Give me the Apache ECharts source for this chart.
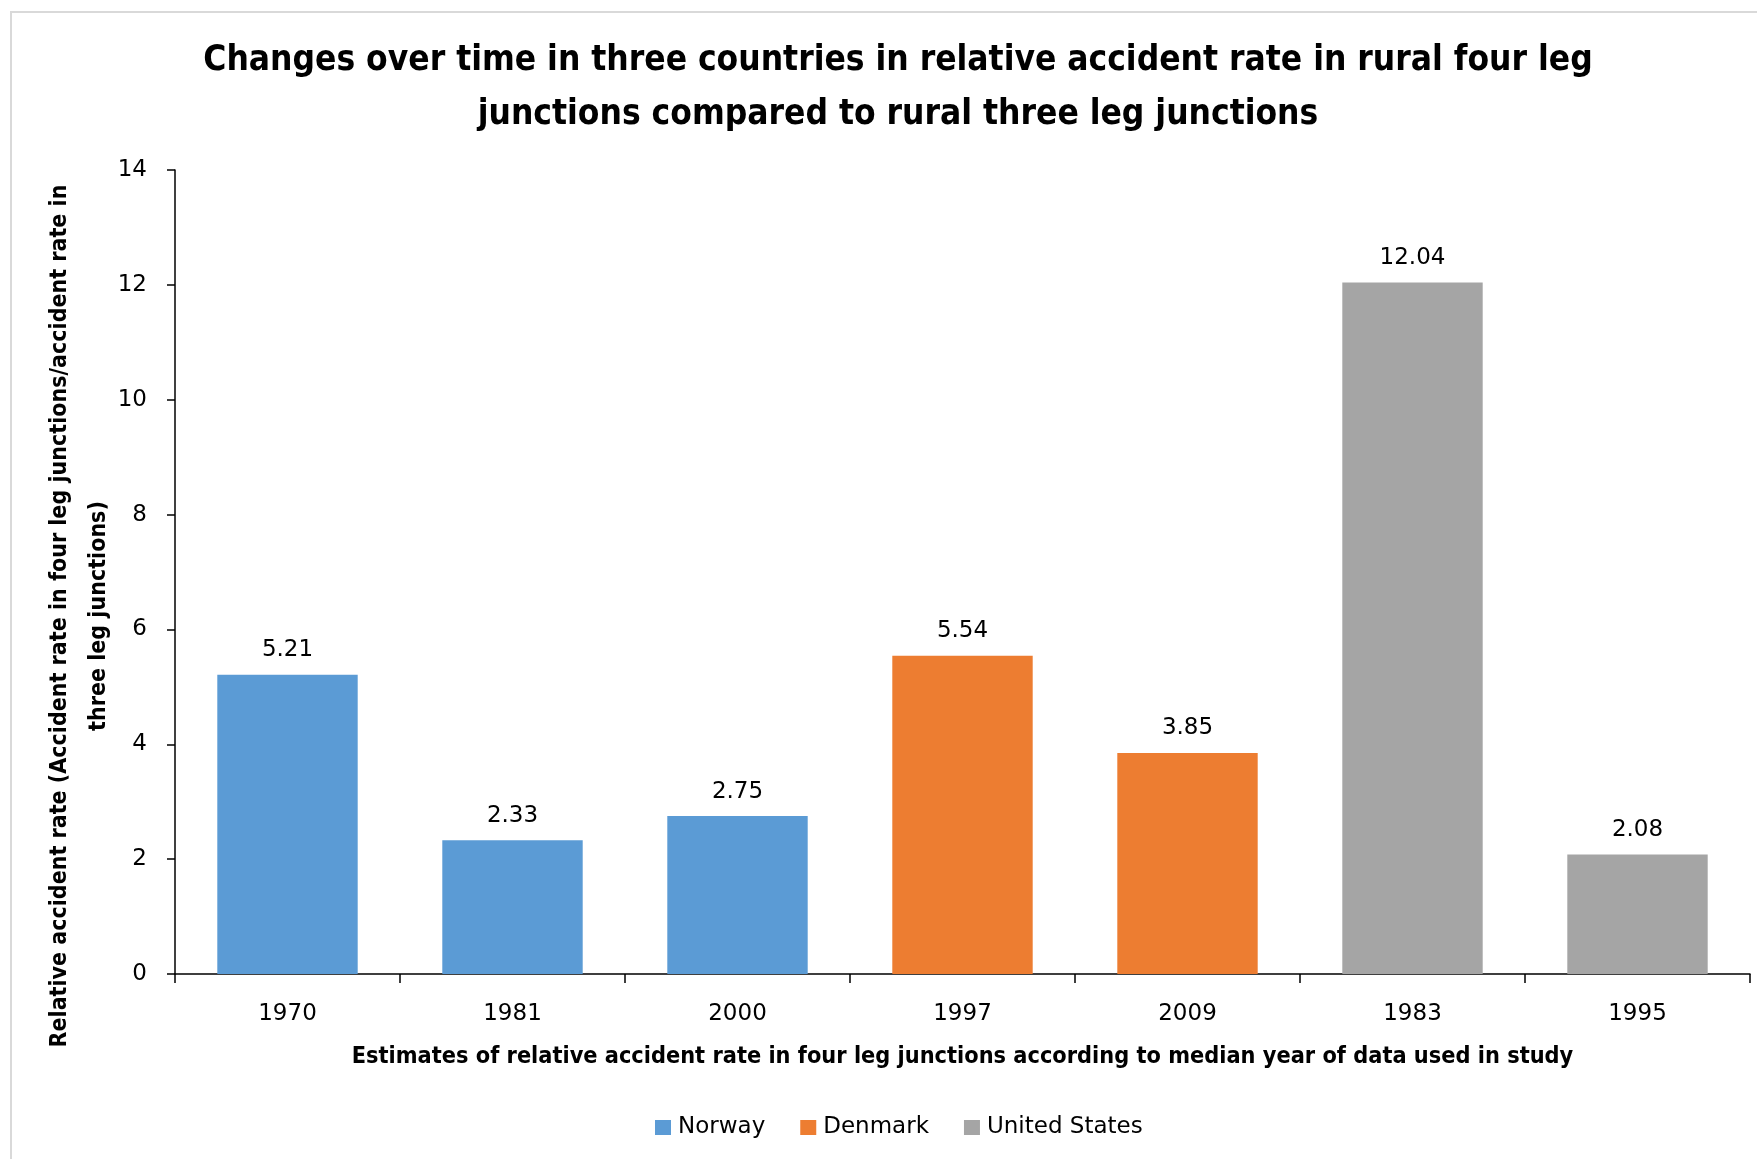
<!DOCTYPE html>
<html>
<head>
<meta charset="utf-8">
<script src="https://cdn.jsdelivr.net/npm/echarts@6/dist/echarts.min.js"></script>
<style>
html,body{margin:0;padding:0;background:#fff;}
#chart{width:1757px;height:1159px;}
</style>
</head>
<body>
<div id="chart"></div>
<script>
const categories = ['1970', '1981', '2000', '1997', '2009', '1983', '1995'];
const norway = [5.21, 2.33, 2.75, '-', '-', '-', '-'];
const denmark = ['-', '-', '-', 5.54, 3.85, '-', '-'];
const unitedStates = ['-', '-', '-', '-', '-', 12.04, 2.08];
const seriesNames = ['Norway', 'Denmark', 'United States'];
const seriesColors = ['#5B9BD5', '#ED7D31', '#A5A5A5'];
const yTicks = [0, 2, 4, 6, 8, 10, 12, 14];

const narrowBold = '"Liberation Sans Narrow", "DejaVu Sans Condensed", "Noto Sans", sans-serif';
const wide = '"DejaVu Sans", sans-serif';

const chart = echarts.init(document.getElementById('chart'));

function mkSeries(name, data, color) {
  return {
    name: name,
    type: 'bar',
    stack: 'all',
    data: data,
    barWidth: '62.4%',
    itemStyle: { color: color },
    label: {
      show: true,
      position: 'top',
      distance: 13,
      color: '#000',
      fontFamily: wide,
      fontSize: 23,
      formatter: p => Number(p.value).toFixed(2)
    }
  };
}

chart.setOption({
  animation: false,
  backgroundColor: '#fff',
  title: {
    text: 'Changes over time in three countries in relative accident rate in rural four leg\njunctions compared to rural three leg junctions',
    left: 893,
    top: 29,
    textAlign: 'center',
    textStyle: {
      fontFamily: narrowBold,
      fontWeight: 'bold',
      fontSize: 35,
      lineHeight: 54,
      color: '#000'
    }
  },
  graphic: [{
    type: 'rect',
    silent: true,
    shape: { x: 11, y: 12, width: 1800, height: 1200 },
    style: { fill: 'none', stroke: '#D9D9D9', lineWidth: 2 }
  }],
  legend: {
    data: seriesNames,
    left: 650,
    top: 1111,
    itemWidth: 16,
    itemHeight: 15,
    itemGap: 35,
    icon: 'rect',
    textStyle: {
      fontFamily: wide,
      fontSize: 23,
      color: '#000',
      padding: [0, 0, 0, 2]
    }
  },
  grid: {
    left: 175,
    right: 7,
    top: 170,
    bottom: 185,
    containLabel: false
  },
  xAxis: {
    type: 'category',
    data: categories,
    name: 'Estimates of relative accident rate in four leg junctions according to median year of data used in study',
    nameLocation: 'middle',
    nameGap: 71,
    nameMoveOverlap: false,
    nameTextStyle: {
      fontFamily: narrowBold,
      fontWeight: 'bold',
      fontSize: 23.3,
      color: '#000'
    },
    axisLine: { lineStyle: { color: '#000', width: 1.5 } },
    axisTick: { show: true, alignWithLabel: false, length: 9, lineStyle: { color: '#000', width: 1.5 } },
    axisLabel: { margin: 29, fontFamily: wide, fontSize: 23, color: '#000' }
  },
  yAxis: {
    type: 'value',
    min: 0,
    max: 14,
    interval: 2,
    name: 'Relative accident rate (Accident rate in four leg junctions/accident rate in\nthree leg junctions)',
    nameLocation: 'middle',
    nameGap: 56,
    nameMoveOverlap: false,
    nameTextStyle: {
      fontFamily: narrowBold,
      fontWeight: 'bold',
      fontSize: 23,
      lineHeight: 39,
      color: '#000',
      padding: [0, 88, 0, 0]
    },
    splitLine: { show: false },
    axisLine: { show: true, lineStyle: { color: '#000', width: 1.5 } },
    axisTick: { show: true, length: 8, lineStyle: { color: '#000', width: 1.5 } },
    axisLabel: {
      margin: 28,
      fontFamily: wide,
      fontSize: 23,
      color: '#000',
      formatter: v => (yTicks.indexOf(v) >= 0 ? String(v) : '')
    }
  },
  series: [
    mkSeries(seriesNames[0], norway, seriesColors[0]),
    mkSeries(seriesNames[1], denmark, seriesColors[1]),
    mkSeries(seriesNames[2], unitedStates, seriesColors[2])
  ]
});
</script>
</body>
</html>
